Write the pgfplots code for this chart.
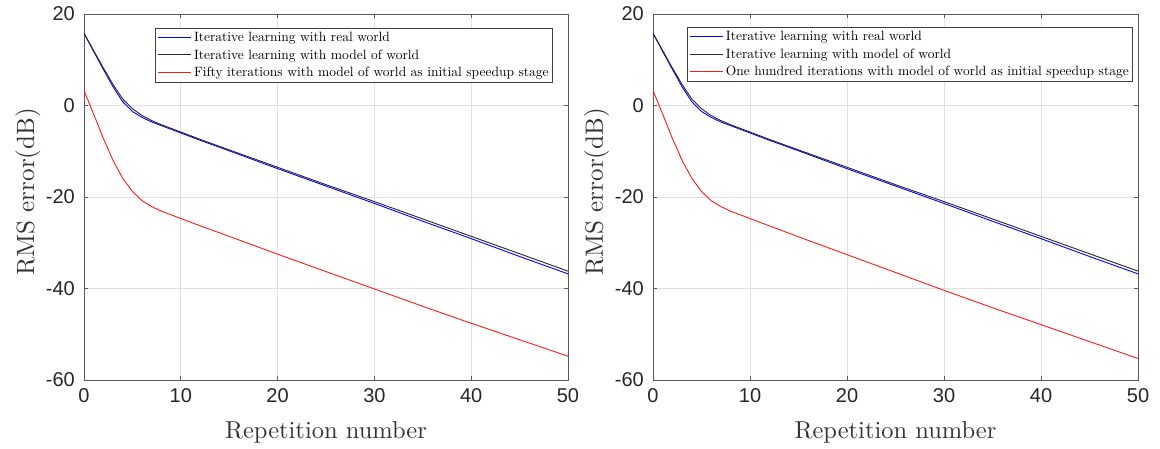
\documentclass[border=0pt]{standalone}
\usepackage{fontspec}
\setsansfont{Liberation Sans}
\newfontfamily\cmr{lmroman10-regular.otf}
\usepackage{pgfplots}
\pgfplotsset{compat=1.18}

\pgfplotsset{
  rmsax/.style={
    scale only axis, anchor=south west, height=366pt,
    xmin=0, xmax=50, ymin=-60, ymax=20,
    xtick={0,10,20,30,40,50}, ytick={-60,-40,-20,0,20},
    xticklabels={0,10,20,30,40,50}, yticklabels={-60,-40,-20,0,20},
    tick align=inside, major tick length=4pt,
    grid=major, grid style={color=black!12, line width=0.7pt},
    axis line style={color=black!65, line width=0.9pt},
    tick style={color=black!65, line width=0.9pt},
    ticklabel style={font=\fontsize{20}{20}\selectfont\sffamily, text=black!85, inner sep=0pt},
    yticklabel style={anchor=east, xshift=-9pt},
    xticklabel style={anchor=north, yshift=-8pt},
    xlabel style={font=\cmr\fontsize{24.5}{24}\selectfont, text=black!80,
      at={(axis description cs:0.5,-0.1612)}, anchor=base},
    ylabel style={font=\cmr\fontsize{25}{24}\selectfont, text=black!80,
      at={(axis description cs:-0.1033,0.514)}, anchor=base},
    xlabel={Repetition number},
    ylabel={RMS error(dB)},
    legend cell align=left,
    legend image code/.code={\draw[##1, line width=1.2pt] (0pt,0.3pt) -- (33pt,0.3pt);},
    legend style={anchor=north east, font=\cmr\fontsize{13.5}{15}\selectfont,
      draw=black!75, line width=0.8pt, inner sep=2pt, row sep=2.5pt},
    every axis plot/.append style={line width=0.9pt},
  }
}

\pgfplotstableread{
x blue black
0 15.8 15.8
1 11.8 12.0
2 7.9 8.2
3 4.1 4.6
4 0.8 1.4
5 -1.3 -0.7
6 -2.6 -2.2
7 -3.6 -3.3
8 -4.4 -4.2
9 -5.2 -5.0
10 -6.0 -5.8
12 -7.6 -7.4
15 -9.9 -9.7
20 -13.8 -13.5
25 -17.6 -17.3
30 -21.4 -21.0
35 -25.3 -24.8
40 -29.1 -28.6
45 -33.0 -32.4
50 -36.8 -36.2
}\common

\pgfplotstableread{
x fifty hundred
0 3.3 3.3
1 -1.9 -1.9
2 -7.2 -7.2
3 -12.0 -12.0
4 -15.9 -15.9
5 -18.8 -18.8
6 -20.8 -20.8
7 -22.1 -22.1
8 -23.1 -23.1
9 -23.9 -23.9
10 -24.7 -24.7
12 -26.3 -26.3
15 -28.6 -28.7
20 -32.5 -32.6
25 -36.3 -36.5
30 -40.1 -40.4
35 -43.9 -44.2
40 -47.6 -47.9
45 -51.2 -51.6
50 -54.8 -55.3
}\speedup

\begin{document}
\begin{tikzpicture}
\useasboundingbox (0,0) rectangle (1160pt,448pt);

\begin{axis}[rmsax, at={(84pt,68pt)}, width=484pt,
  legend style={at={(0.969,0.962)}}]
  \addplot[draw=blue] table[x=x, y=blue] {\common};
  \addplot[draw=black!85] table[x=x, y=black] {\common};
  \addplot[draw=red!90!white] table[x=x, y=fifty] {\speedup};
  \legend{Iterative learning with real world,
          Iterative learning with model of world,
          Fifty iterations with model of world as initial speedup stage}
\end{axis}

\begin{axis}[rmsax, at={(653pt,68pt)}, width=485pt,
  legend style={at={(0.99,0.964)}}]
  \addplot[draw=blue] table[x=x, y=blue] {\common};
  \addplot[draw=black!85] table[x=x, y=black] {\common};
  \addplot[draw=red!90!white] table[x=x, y=hundred] {\speedup};
  \legend{Iterative learning with real world,
          Iterative learning with model of world,
          One hundred iterations with model of world as initial speedup stage}
\end{axis}
\end{tikzpicture}
\end{document}
